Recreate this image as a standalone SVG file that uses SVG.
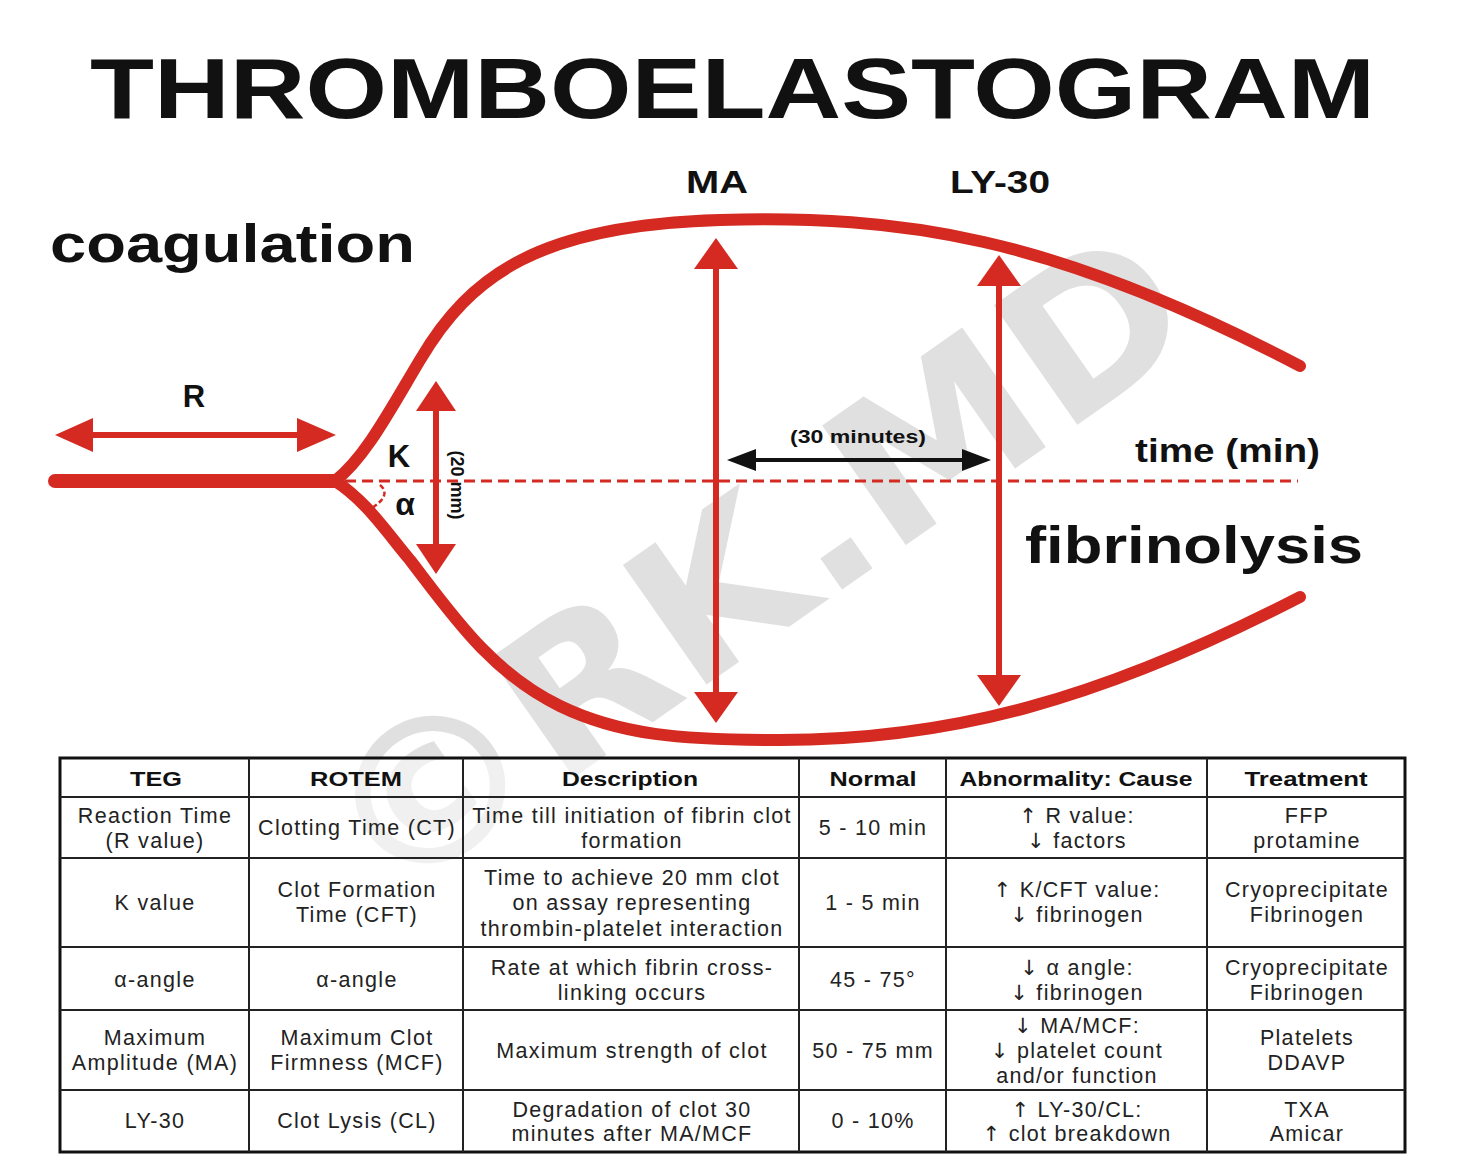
<svg xmlns="http://www.w3.org/2000/svg" width="1480" height="1172" viewBox="0 0 1480 1172">
<style>
.red{stroke:#d42a22;fill:none;stroke-linecap:round}
.rf{fill:#d42a22}
.lbl{font-family:"Liberation Sans",Arial,sans-serif;font-weight:bold;fill:#111}
.th{font-family:"Liberation Sans",Arial,sans-serif;font-weight:bold;font-size:21px;fill:#111;text-anchor:middle}
.td{font-family:"Liberation Sans",Arial,sans-serif;font-size:21.5px;fill:#222;text-anchor:middle;letter-spacing:1.3px}
.ar{font-family:"DejaVu Sans",sans-serif;font-size:21px}
.grid{stroke:#222;stroke-width:2;fill:none}
</style>
<rect width="1480" height="1172" fill="#fff"/>
<g id="watermark">
<text x="755" y="635" transform="rotate(-35 755 565)" font-family="DejaVu Sans,sans-serif" font-weight="bold" font-size="200" fill="#e0e0e0" text-anchor="middle" textLength="1000" lengthAdjust="spacingAndGlyphs">©RK.MD</text>
</g>
<g id="title"><text class="lbl" x="90" y="118" font-size="86" textLength="1285" lengthAdjust="spacingAndGlyphs">THROMBOELASTOGRAM</text></g>
<g id="curve">
<path class="red" stroke-width="14" d="M55,481 L335,481"/>
<path class="red" stroke-width="12" d="M335,481 C365,458 390,410 420,360 C470,275 540,225 720,220 C900,215 1050,235 1300,366"/>
<path class="red" stroke-width="12" d="M335,481 C365,500 385,530 410,560 C450,612 490,672 560,706 C620,735 680,740 780,740 C950,740 1100,700 1300,597"/>
</g>
<g id="connectors">
<line x1="345" y1="481" x2="1298" y2="481" stroke="#d42a22" stroke-width="3" stroke-dasharray="11 6"/>
<path d="M380,485 Q392,495 372,508" stroke="#d42a22" stroke-width="2.5" fill="none" stroke-dasharray="5 3"/>
<line x1="90" y1="435" x2="300" y2="435" stroke="#d42a22" stroke-width="6"/>
<polygon class="rf" points="55,435 93,418 93,452"/>
<polygon class="rf" points="336,435 297,418 297,452"/>
<line x1="436" y1="405" x2="436" y2="550" stroke="#d42a22" stroke-width="6"/>
<polygon class="rf" points="436,381 416,411 456,411"/>
<polygon class="rf" points="436,574 416,544 456,544"/>
<line x1="716" y1="262" x2="716" y2="698" stroke="#d42a22" stroke-width="6"/>
<polygon class="rf" points="716,238 694,269 738,269"/>
<polygon class="rf" points="716,723 694,692 738,692"/>
<line x1="999" y1="280" x2="999" y2="680" stroke="#d42a22" stroke-width="6"/>
<polygon class="rf" points="999,255 977,286 1021,286"/>
<polygon class="rf" points="999,706 977,675 1021,675"/>
<line x1="745" y1="460" x2="972" y2="460" stroke="#111" stroke-width="4"/>
<polygon fill="#111" points="727,460 756,449 756,471"/>
<polygon fill="#111" points="991,460 962,449 962,471"/>
</g>
<g id="labels">
<text class="lbl" x="50" y="262" font-size="54" textLength="365" lengthAdjust="spacingAndGlyphs">coagulation</text>
<text class="lbl" x="686" y="193" font-size="32" textLength="62" lengthAdjust="spacingAndGlyphs">MA</text>
<text class="lbl" x="950" y="193" font-size="32" textLength="100" lengthAdjust="spacingAndGlyphs">LY-30</text>
<text class="lbl" x="194" y="407" font-size="31" text-anchor="middle">R</text>
<text class="lbl" x="399" y="467" font-size="31" text-anchor="middle">K</text>
<text class="lbl" x="405" y="515" font-size="32" text-anchor="middle">α</text>
<text class="lbl" x="0" y="0" font-size="18" text-anchor="middle" transform="translate(451,485) rotate(90)">(20 mm)</text>
<text class="lbl" x="858" y="443" font-size="19" text-anchor="middle" textLength="136" lengthAdjust="spacingAndGlyphs">(30 minutes)</text>
<text class="lbl" x="1135" y="462" font-size="33" textLength="185" lengthAdjust="spacingAndGlyphs">time (min)</text>
<text class="lbl" x="1025" y="563" font-size="52" textLength="338" lengthAdjust="spacingAndGlyphs">fibrinolysis</text>
</g>
<g id="table">
<rect x="60" y="758" width="1345" height="394" fill="#fff" fill-opacity="0.5" stroke="#111" stroke-width="3"/>
<path class="grid" d="M249,758V1152M463,758V1152M799,758V1152M946,758V1152M1207,758V1152M60,797H1405M60,858H1405M60,947H1405M60,1010H1405M60,1090H1405"/>
<g id="header">
<text class="th" x="156" y="786" textLength="52" lengthAdjust="spacingAndGlyphs">TEG</text>
<text class="th" x="356" y="786" textLength="92" lengthAdjust="spacingAndGlyphs">ROTEM</text>
<text class="th" x="630" y="786" textLength="136" lengthAdjust="spacingAndGlyphs">Description</text>
<text class="th" x="873" y="786" textLength="87" lengthAdjust="spacingAndGlyphs">Normal</text>
<text class="th" x="1076" y="786" textLength="233" lengthAdjust="spacingAndGlyphs">Abnormality: Cause</text>
<text class="th" x="1306" y="786" textLength="123" lengthAdjust="spacingAndGlyphs">Treatment</text>
</g>
<g id="row1">
<text class="td" x="155" y="823">Reaction Time</text>
<text class="td" x="155" y="848">(R value)</text>
<text class="td" x="357" y="835">Clotting Time (CT)</text>
<text class="td" x="632" y="823">Time till initiation of fibrin clot</text>
<text class="td" x="632" y="848">formation</text>
<text class="td" x="873" y="835">5 - 10 min</text>
<text class="td" x="1077" y="823"><tspan class="ar">↑</tspan> R value:</text>
<text class="td" x="1077" y="848"><tspan class="ar">↓</tspan> factors</text>
<text class="td" x="1307" y="823">FFP</text>
<text class="td" x="1307" y="848">protamine</text>
</g>
<g id="row2">
<text class="td" x="155" y="910">K value</text>
<text class="td" x="357" y="897">Clot Formation</text>
<text class="td" x="357" y="922">Time (CFT)</text>
<text class="td" x="632" y="885">Time to achieve 20 mm clot</text>
<text class="td" x="632" y="910">on assay representing</text>
<text class="td" x="632" y="936">thrombin-platelet interaction</text>
<text class="td" x="873" y="910">1 - 5 min</text>
<text class="td" x="1077" y="897"><tspan class="ar">↑</tspan> K/CFT value:</text>
<text class="td" x="1077" y="922"><tspan class="ar">↓</tspan> fibrinogen</text>
<text class="td" x="1307" y="897">Cryoprecipitate</text>
<text class="td" x="1307" y="922">Fibrinogen</text>
</g>
<g id="row3">
<text class="td" x="155" y="987">α-angle</text>
<text class="td" x="357" y="987">α-angle</text>
<text class="td" x="632" y="975">Rate at which fibrin cross-</text>
<text class="td" x="632" y="1000">linking occurs</text>
<text class="td" x="873" y="987">45 - 75°</text>
<text class="td" x="1077" y="975"><tspan class="ar">↓</tspan> α angle:</text>
<text class="td" x="1077" y="1000"><tspan class="ar">↓</tspan> fibrinogen</text>
<text class="td" x="1307" y="975">Cryoprecipitate</text>
<text class="td" x="1307" y="1000">Fibrinogen</text>
</g>
<g id="row4">
<text class="td" x="155" y="1045">Maximum</text>
<text class="td" x="155" y="1070">Amplitude (MA)</text>
<text class="td" x="357" y="1045">Maximum Clot</text>
<text class="td" x="357" y="1070">Firmness (MCF)</text>
<text class="td" x="632" y="1058">Maximum strength of clot</text>
<text class="td" x="873" y="1058">50 - 75 mm</text>
<text class="td" x="1077" y="1033"><tspan class="ar">↓</tspan> MA/MCF:</text>
<text class="td" x="1077" y="1058"><tspan class="ar">↓</tspan> platelet count</text>
<text class="td" x="1077" y="1083">and/or function</text>
<text class="td" x="1307" y="1045">Platelets</text>
<text class="td" x="1307" y="1070">DDAVP</text>
</g>
<g id="row5">
<text class="td" x="155" y="1128">LY-30</text>
<text class="td" x="357" y="1128">Clot Lysis (CL)</text>
<text class="td" x="632" y="1117">Degradation of clot 30</text>
<text class="td" x="632" y="1141">minutes after MA/MCF</text>
<text class="td" x="873" y="1128">0 - 10%</text>
<text class="td" x="1077" y="1117"><tspan class="ar">↑</tspan> LY-30/CL:</text>
<text class="td" x="1077" y="1141"><tspan class="ar">↑</tspan> clot breakdown</text>
<text class="td" x="1307" y="1117">TXA</text>
<text class="td" x="1307" y="1141">Amicar</text>
</g>
</g>
</svg>
